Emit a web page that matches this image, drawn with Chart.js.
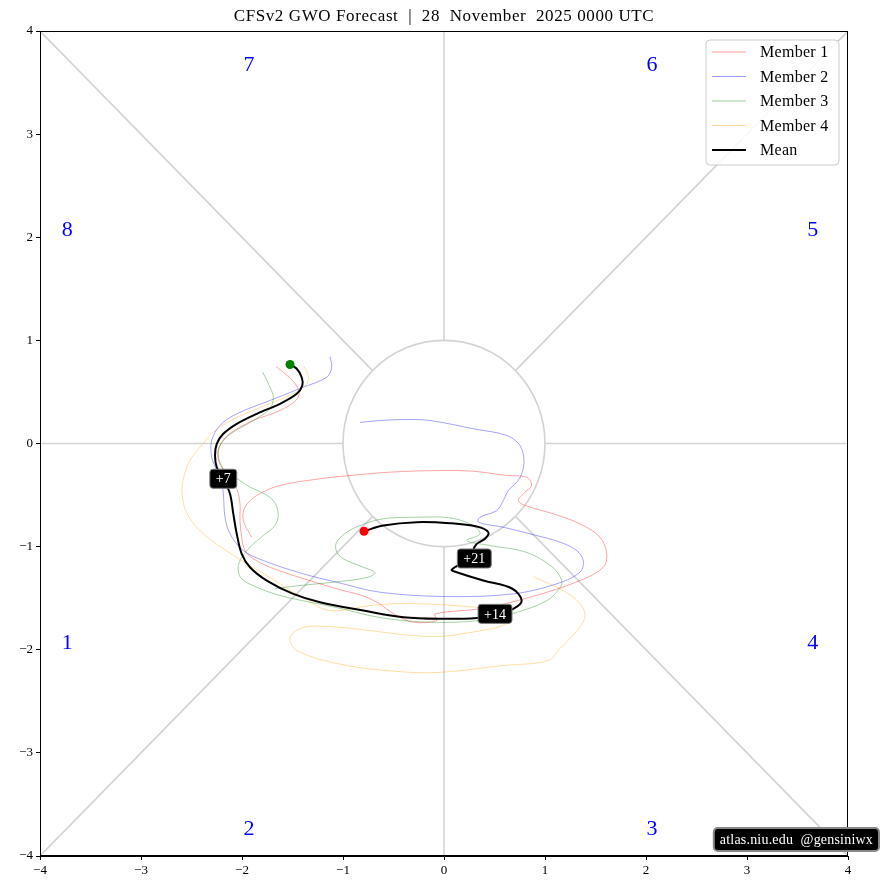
<!DOCTYPE html>
<html>
<head>
<meta charset="utf-8">
<script src="https://cdn.jsdelivr.net/npm/chart.js@4"></script>
<style>
  html, body { margin: 0; padding: 0; background: #fff; }
  #wrap { width: 881px; height: 890px; }
</style>
</head>
<body>
<div id="wrap"><canvas id="chart"></canvas></div>
<script>
// Tiêu đề và nhãn trục
const titleText = "CFSv2 GWO Forecast  |  28  November  2025 0000 UTC";
const tickValues = [-4, -3, -2, -1, 0, 1, 2, 3, 4];

// Các pha GWO (1-8)
const phaseText = ["1", "2", "3", "4", "5", "6", "7", "8"];
const phaseX = [-3.73, -1.93, 2.06, 3.65, 3.65, 2.06, -1.93, -3.73];
const phaseY = [-1.94, -3.74, -3.74, -1.94, 2.07, 3.67, 3.67, 2.07];

// Quỹ đạo các thành viên (x, y)
const member1 = [
  [-1.663, 0.747], [-1.475, 0.582], [-1.443, 0.449], [-1.624, 0.320], [-1.891, 0.223],
  [-2.119, 0.097], [-2.218, -0.019], [-2.238, -0.136], [-2.201, -0.230], [-2.119, -0.339],
  [-2.052, -0.439], [-2.020, -0.582], [-2.020, -0.747], [-2.003, -0.909], [-1.970, -1.038],
  [-1.891, -1.115], [-1.723, -1.200], [-1.396, -1.309], [-1.062, -1.409], [-0.733, -1.503],
  [-0.468, -1.668], [-0.304, -1.733], [-0.072, -1.717], [-0.089, -1.652], [0.356, -1.603],
  [0.851, -1.491], [1.347, -1.329], [1.577, -1.200], [1.611, -1.070], [1.545, -0.909],
  [1.347, -0.779], [1.082, -0.682], [0.802, -0.601], [0.736, -0.553], [0.802, -0.472],
  [0.868, -0.407], [0.819, -0.327], [0.621, -0.310], [0.290, -0.269], [-0.040, -0.262],
  [-0.535, -0.278], [-1.030, -0.320], [-1.228, -0.342], [-1.624, -0.407], [-1.854, -0.504],
  [-1.970, -0.618], [-1.987, -0.747], [-1.904, -0.909]
];
const member2 = [
  [-1.129, 0.844], [-1.112, 0.740], [-1.161, 0.643], [-1.393, 0.546], [-1.723, 0.417],
  [-2.052, 0.288], [-2.218, 0.175], [-2.300, 0.029], [-2.300, -0.133], [-2.250, -0.262],
  [-2.201, -0.388], [-2.185, -0.488], [-2.168, -0.715], [-2.119, -0.876], [-1.987, -1.038],
  [-1.789, -1.135], [-1.393, -1.264], [-1.062, -1.345], [-0.634, -1.442], [0.027, -1.484],
  [0.686, -1.458], [1.116, -1.361], [1.347, -1.248], [1.379, -1.135], [1.314, -1.038],
  [1.149, -0.957], [0.851, -0.876], [0.587, -0.812], [0.340, -0.763], [0.356, -0.715],
  [0.522, -0.650], [0.587, -0.553], [0.637, -0.456], [0.720, -0.375], [0.769, -0.294],
  [0.792, -0.165], [0.752, -0.019], [0.621, 0.078], [0.290, 0.143], [-0.139, 0.223],
  [-0.369, 0.233], [-0.634, 0.223], [-0.832, 0.204]
];
const member3 = [
  [-1.795, 0.692], [-1.723, 0.546], [-1.690, 0.449], [-1.723, 0.339], [-1.888, 0.223],
  [-2.086, 0.110], [-2.185, 0.029], [-2.235, -0.068], [-2.218, -0.184], [-2.139, -0.301],
  [-2.052, -0.339], [-1.921, -0.424], [-1.822, -0.466], [-1.690, -0.553], [-1.641, -0.682],
  [-1.673, -0.795], [-1.789, -0.892], [-1.921, -1.006], [-2.020, -1.135], [-2.037, -1.232],
  [-2.003, -1.312], [-1.854, -1.394], [-1.624, -1.474], [-1.327, -1.539], [-1.062, -1.591],
  [-0.634, -1.688], [-0.139, -1.733], [0.356, -1.717], [0.683, -1.649], [1.020, -1.523],
  [1.149, -1.397], [1.165, -1.329], [1.079, -1.203], [0.822, -1.057], [0.455, -0.989],
  [0.225, -0.941], [0.356, -0.876], [0.290, -0.795], [0.059, -0.721], [-0.270, -0.715],
  [-0.601, -0.730], [-0.832, -0.795], [-0.980, -0.873], [-1.069, -0.970], [-1.059, -1.057],
  [-0.997, -1.118], [-0.799, -1.200], [-0.683, -1.251], [-0.762, -1.300], [-1.096, -1.345],
  [-1.426, -1.377], [-1.673, -1.406]
];
const member4 = [
  [-1.393, 0.757], [-1.344, 0.660], [-1.359, 0.579], [-1.465, 0.495], [-1.723, 0.388],
  [-2.050, 0.252], [-2.267, 0.126], [-2.386, 0.000], [-2.515, -0.165], [-2.584, -0.359],
  [-2.594, -0.485], [-2.545, -0.679], [-2.386, -0.873], [-2.050, -1.106], [-1.723, -1.300],
  [-1.396, -1.494], [-1.129, -1.620], [-0.733, -1.571], [-0.406, -1.552], [0.089, -1.571],
  [0.525, -1.620], [0.653, -1.697], [0.584, -1.765], [0.257, -1.833], [-0.069, -1.872],
  [-0.406, -1.853], [-0.733, -1.814], [-1.129, -1.775], [-1.396, -1.785], [-1.525, -1.882],
  [-1.455, -2.008], [-1.059, -2.134], [-0.564, -2.202], [-0.069, -2.221], [0.584, -2.153],
  [1.030, -2.105], [1.149, -1.988], [1.317, -1.814], [1.396, -1.678], [1.347, -1.552],
  [1.178, -1.426], [0.881, -1.290]
];
const meanTrack = [
  [-1.525, 0.766], [-1.458, 0.725], [-1.409, 0.643], [-1.403, 0.563], [-1.458, 0.482],
  [-1.624, 0.385], [-1.854, 0.288], [-2.052, 0.191], [-2.185, 0.094], [-2.250, -0.003],
  [-2.267, -0.116], [-2.250, -0.230], [-2.185, -0.342], [-2.119, -0.488], [-2.086, -0.682],
  [-2.052, -0.876], [-2.003, -1.070], [-1.921, -1.200], [-1.755, -1.329], [-1.492, -1.458],
  [-1.228, -1.539], [-0.799, -1.620], [-0.403, -1.685], [-0.040, -1.700], [0.324, -1.691],
  [0.505, -1.652], [0.686, -1.603], [0.769, -1.523], [0.673, -1.406], [0.389, -1.329],
  [0.126, -1.248], [0.076, -1.225], [0.178, -1.164], [0.300, -1.115], [0.290, -1.038],
  [0.324, -0.973], [0.406, -0.924], [0.439, -0.860], [0.324, -0.805], [0.059, -0.773],
  [-0.270, -0.763], [-0.601, -0.795], [-0.792, -0.851]
];

// Nhãn ngày trên đường trung bình
const dayText = ["+7", "+14", "+21"];
const dayX = [-2.185, 0.505, 0.300];
const dayY = [-0.342, -1.652, -1.115];

const seriesNames = ["Member 1", "Member 2", "Member 3", "Member 4", "Mean"];
const seriesColors = ["rgba(255,0,0,0.4)", "rgba(0,0,255,0.4)", "rgba(0,128,0,0.4)", "rgba(255,165,0,0.4)", "#000"];

const FONT = "'Liberation Serif', 'DejaVu Serif', serif";
const toPts = arr => arr.map(p => ({ x: p[0], y: p[1] }));
const minus = v => String(v).replace("-", "\u2212");

function lineSet(name, pts, color, width, order) {
  return {
    label: name, data: toPts(pts), showLine: true,
    borderColor: color, borderWidth: width, pointRadius: 0,
    tension: 0.35, fill: false, order: order
  };
}

function roundBox(ctx, x, y, w, h, r) {
  ctx.beginPath();
  ctx.moveTo(x + r, y);
  ctx.arcTo(x + w, y, x + w, y + h, r);
  ctx.arcTo(x + w, y + h, x, y + h, r);
  ctx.arcTo(x, y + h, x, y, r);
  ctx.arcTo(x, y, x + w, y, r);
  ctx.closePath();
}

// Vẽ nền: đường chia pha, vòng tròn, số pha
const decor = {
  id: "decor",
  beforeDatasetsDraw(chart) {
    const { ctx, chartArea: a, scales: { x, y } } = chart;
    ctx.save();
    ctx.beginPath(); ctx.rect(a.left, a.top, a.width, a.height); ctx.clip();
    ctx.strokeStyle = "#d3d3d3";
    ctx.lineWidth = 1.6;
    const seg = (x0, y0, x1, y1) => {
      ctx.beginPath();
      ctx.moveTo(x.getPixelForValue(x0), y.getPixelForValue(y0));
      ctx.lineTo(x.getPixelForValue(x1), y.getPixelForValue(y1));
      ctx.stroke();
    };
    const r = Math.SQRT1_2;
    seg(-4, 0, -1, 0); seg(1, 0, 4, 0); seg(0, -4, 0, -1); seg(0, 1, 0, 4);
    seg(-4, -4, -r, -r); seg(r, r, 4, 4); seg(-4, 4, -r, r); seg(r, -r, 4, -4);
    const cx = x.getPixelForValue(0), cy = y.getPixelForValue(0);
    ctx.beginPath();
    ctx.ellipse(cx, cy, x.getPixelForValue(1) - cx, cy - y.getPixelForValue(1), 0, 0, 2 * Math.PI);
    ctx.stroke();

    ctx.fillStyle = "#0000ff";
    ctx.font = "22px " + FONT;
    ctx.textAlign = "center";
    ctx.textBaseline = "middle";
    phaseText.forEach((t, i) => {
      ctx.fillText(t, x.getPixelForValue(phaseX[i]), y.getPixelForValue(phaseY[i]));
    });
    ctx.restore();
  },
  afterDatasetsDraw(chart) {
    const { ctx, chartArea: a, scales: { x, y } } = chart;
    ctx.save();
    // khung
    ctx.strokeStyle = "#000";
    ctx.lineWidth = 1;
    ctx.strokeRect(a.left + 0.5, a.top + 0.5, a.width - 1, a.height - 1);

    // nhãn ngày
    ctx.font = "14px " + FONT;
    ctx.textAlign = "center";
    ctx.textBaseline = "middle";
    dayText.forEach((t, i) => {
      const px = x.getPixelForValue(dayX[i]), py = y.getPixelForValue(dayY[i]);
      const w = ctx.measureText(t).width + 12, h = 19;
      roundBox(ctx, px - w / 2, py - h / 2, w, h, 3);
      ctx.fillStyle = "#000"; ctx.fill();
      ctx.strokeStyle = "#777"; ctx.lineWidth = 1; ctx.stroke();
      ctx.fillStyle = "#fff";
      ctx.fillText(t, px, py + 1);
    });

    // chú thích
    const lx = a.right - 142, ly = a.top + 9, lw = 133, lh = 125;
    roundBox(ctx, lx, ly, lw, lh, 4);
    ctx.fillStyle = "rgba(255,255,255,0.85)"; ctx.fill();
    ctx.strokeStyle = "#cccccc"; ctx.lineWidth = 1; ctx.stroke();
    ctx.font = "16px " + FONT;
    ctx.textAlign = "left";
    ctx.letterSpacing = "0.3px";
    seriesNames.forEach((n, i) => {
      const ry = ly + 12 + i * 24.5;
      ctx.beginPath();
      ctx.moveTo(lx + 6, ry); ctx.lineTo(lx + 40, ry);
      ctx.strokeStyle = seriesColors[i];
      ctx.lineWidth = i === 4 ? 2 : 1;
      ctx.stroke();
      ctx.fillStyle = "#000";
      ctx.fillText(n, lx + 54, ry + 1);
    });

    // watermark
    const wt = "atlas.niu.edu  @gensiniwx";
    ctx.font = "14px " + FONT;
    ctx.letterSpacing = "0.2px";
    const ww = ctx.measureText(wt).width + 12;
    roundBox(ctx, 879 - ww, 828, ww, 23, 4);
    ctx.fillStyle = "#000"; ctx.fill();
    ctx.strokeStyle = "#888"; ctx.stroke();
    ctx.fillStyle = "#fff";
    ctx.fillText(wt, 879 - ww + 6, 840);

    // tiêu đề
    ctx.font = "17px " + FONT;
    ctx.letterSpacing = "0.6px";
    ctx.textAlign = "center";
    ctx.fillStyle = "#000";
    ctx.fillText(titleText, (a.left + a.right) / 2, 17);
    ctx.restore();
  }
};

const axisCommon = {
  type: "linear", min: -4, max: 4,
  afterBuildTicks: s => { s.ticks = tickValues.map(v => ({ value: v })); },
  ticks: { callback: v => minus(v), color: "#000", font: { family: FONT, size: 13 }, maxRotation: 0, padding: 3 },
  grid: { drawOnChartArea: false, drawTicks: true, tickLength: 4, color: "#000" },
  border: { display: true, color: "#000", width: 1 }
};

const ctx = document.getElementById("chart").getContext("2d");
const chart = new Chart(ctx, {
  type: "scatter",
  data: {
    datasets: [
      {
        label: "start-end", data: toPts([meanTrack[0], meanTrack[meanTrack.length - 1]]),
        pointRadius: 4.5, pointBackgroundColor: ["#008000", "#ff0000"], pointBorderWidth: 0,
        showLine: false, order: 0
      },
      lineSet("Mean", meanTrack, "#000", 2, 1),
      lineSet("Member 4", member4, seriesColors[3], 0.9, 2),
      lineSet("Member 3", member3, seriesColors[2], 0.9, 3),
      lineSet("Member 2", member2, seriesColors[1], 0.9, 4),
      lineSet("Member 1", member1, seriesColors[0], 0.9, 5)
    ]
  },
  options: {
    responsive: true,
    maintainAspectRatio: false,
    animation: false,
    layout: { padding: { top: 31, right: 33, left: 0, bottom: 0 } },
    plugins: { legend: { display: false }, tooltip: { enabled: false }, title: { display: false } },
    scales: {
      x: Object.assign({}, axisCommon, { afterFit: s => { s.height = 34; } }),
      y: Object.assign({}, axisCommon, { afterFit: s => { s.width = 40; } })
    }
  },
  plugins: [decor]
});
</script>
</body>
</html>
